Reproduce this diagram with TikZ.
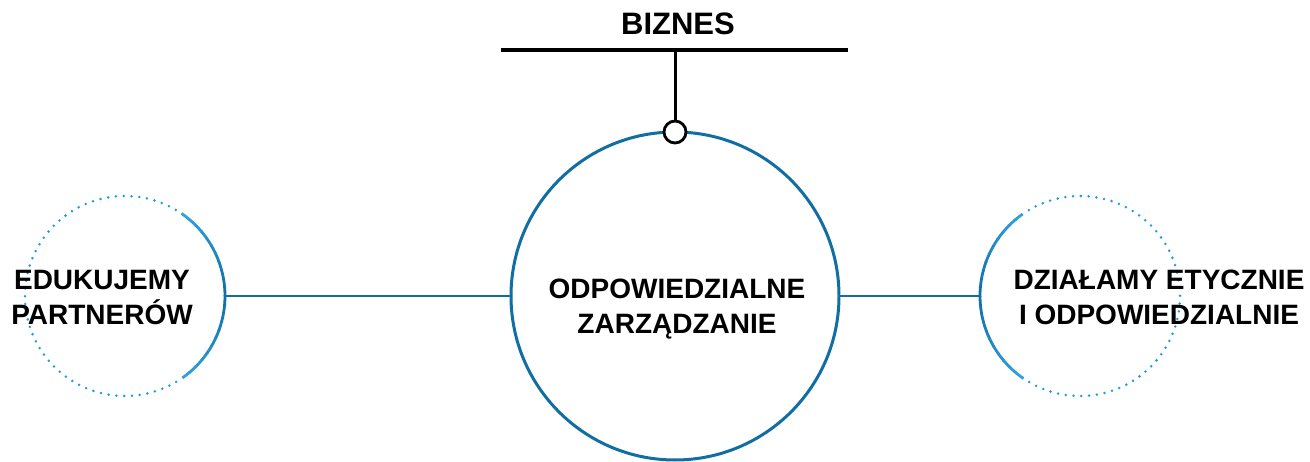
\documentclass[tikz,border=0pt]{standalone}
\usepackage{fontspec}
\setmainfont{Liberation Sans}
\usetikzlibrary{calc}
\begin{document}
\begin{tikzpicture}[x=1pt,y=1pt,
  every node/.style={inner sep=0pt, outer sep=0pt},
  label text/.style={font=\bfseries\fontsize{28}{35}\selectfont, align=center, anchor=base, text=black},
  main ring/.style={draw=ringblue, line width=3pt},
  link/.style={draw=ringblue, line width=2.7pt},
  dotted ring/.style={draw=dotblue, line width=2.8pt, line cap=round, dash pattern=on 0pt off 7.8pt},
  bar/.style={draw=black, line width=3.4pt}]
\definecolor{ringblue}{RGB}{16,110,162}
\definecolor{dotblue}{RGB}{30,155,222}
\definecolor{lightblue}{RGB}{50,165,225}
\useasboundingbox (0,0) rectangle (1310,461);

% circles (y = 461 - pixel row)
\node[circle, minimum size=328pt] (main) at (675,165) {};
\node[circle, minimum size=200pt] (left) at (125,165) {};
\node[circle, minimum size=200pt] (right) at (1080,165) {};

% central ring
\draw[main ring] (main) circle[radius=164pt];

% left ring: dotted outer side, shaded solid inner side
\draw[dotted ring] (left.55) arc[start angle=55, end angle=305, radius=100pt];
\foreach \a in {-55,-50,...,50} {
  \pgfmathsetmacro{\mix}{100*max(0,1-abs(\a+2.5)/57)}
  \draw[draw=ringblue!\mix!lightblue, line width=2.8pt]
    ($(left.center)+(\a:100pt)$) arc[start angle=\a, end angle=\a+5.5, radius=100pt];
}

% right ring: dotted outer side, shaded solid inner side
\draw[dotted ring] (right.235) arc[start angle=235, end angle=485, radius=100pt];
\foreach \a in {125,130,...,230} {
  \pgfmathsetmacro{\mix}{100*max(0,1-abs(\a+2.5-180)/57)}
  \draw[draw=ringblue!\mix!lightblue, line width=2.8pt]
    ($(right.center)+(\a:100pt)$) arc[start angle=\a, end angle=\a+5.5, radius=100pt];
}

% links between rings
\draw[link] (left.east) -- (main.west);
\draw[link] (main.east) -- (right.west);

% business bar with pin
\coordinate (barL) at (501,411);
\coordinate (barR) at (848,411);
\coordinate (barM) at (675,411);
\node[circle, draw=black, fill=white, line width=2.8pt, minimum size=22pt] (pin) at (main.north) {};
\draw[bar] (barL) -- (barR);
\draw[black, line width=3pt] (barM) -- (pin.north);

% labels (base anchor sits on the last line)
\node[label text, font=\bfseries\fontsize{31}{35}\selectfont] (biz) at (678,426) {BIZNES};
\node[label text] (mainlbl) at (677,127) {ODPOWIEDZIALNE\\ZARZĄDZANIE};
\node[label text] (leftlbl) at (102,136) {EDUKUJEMY\\PARTNERÓW};
\node[label text] (rightlbl) at (1159,136) {DZIAŁAMY ETYCZNIE\\I ODPOWIEDZIALNIE};
\end{tikzpicture}
\end{document}
